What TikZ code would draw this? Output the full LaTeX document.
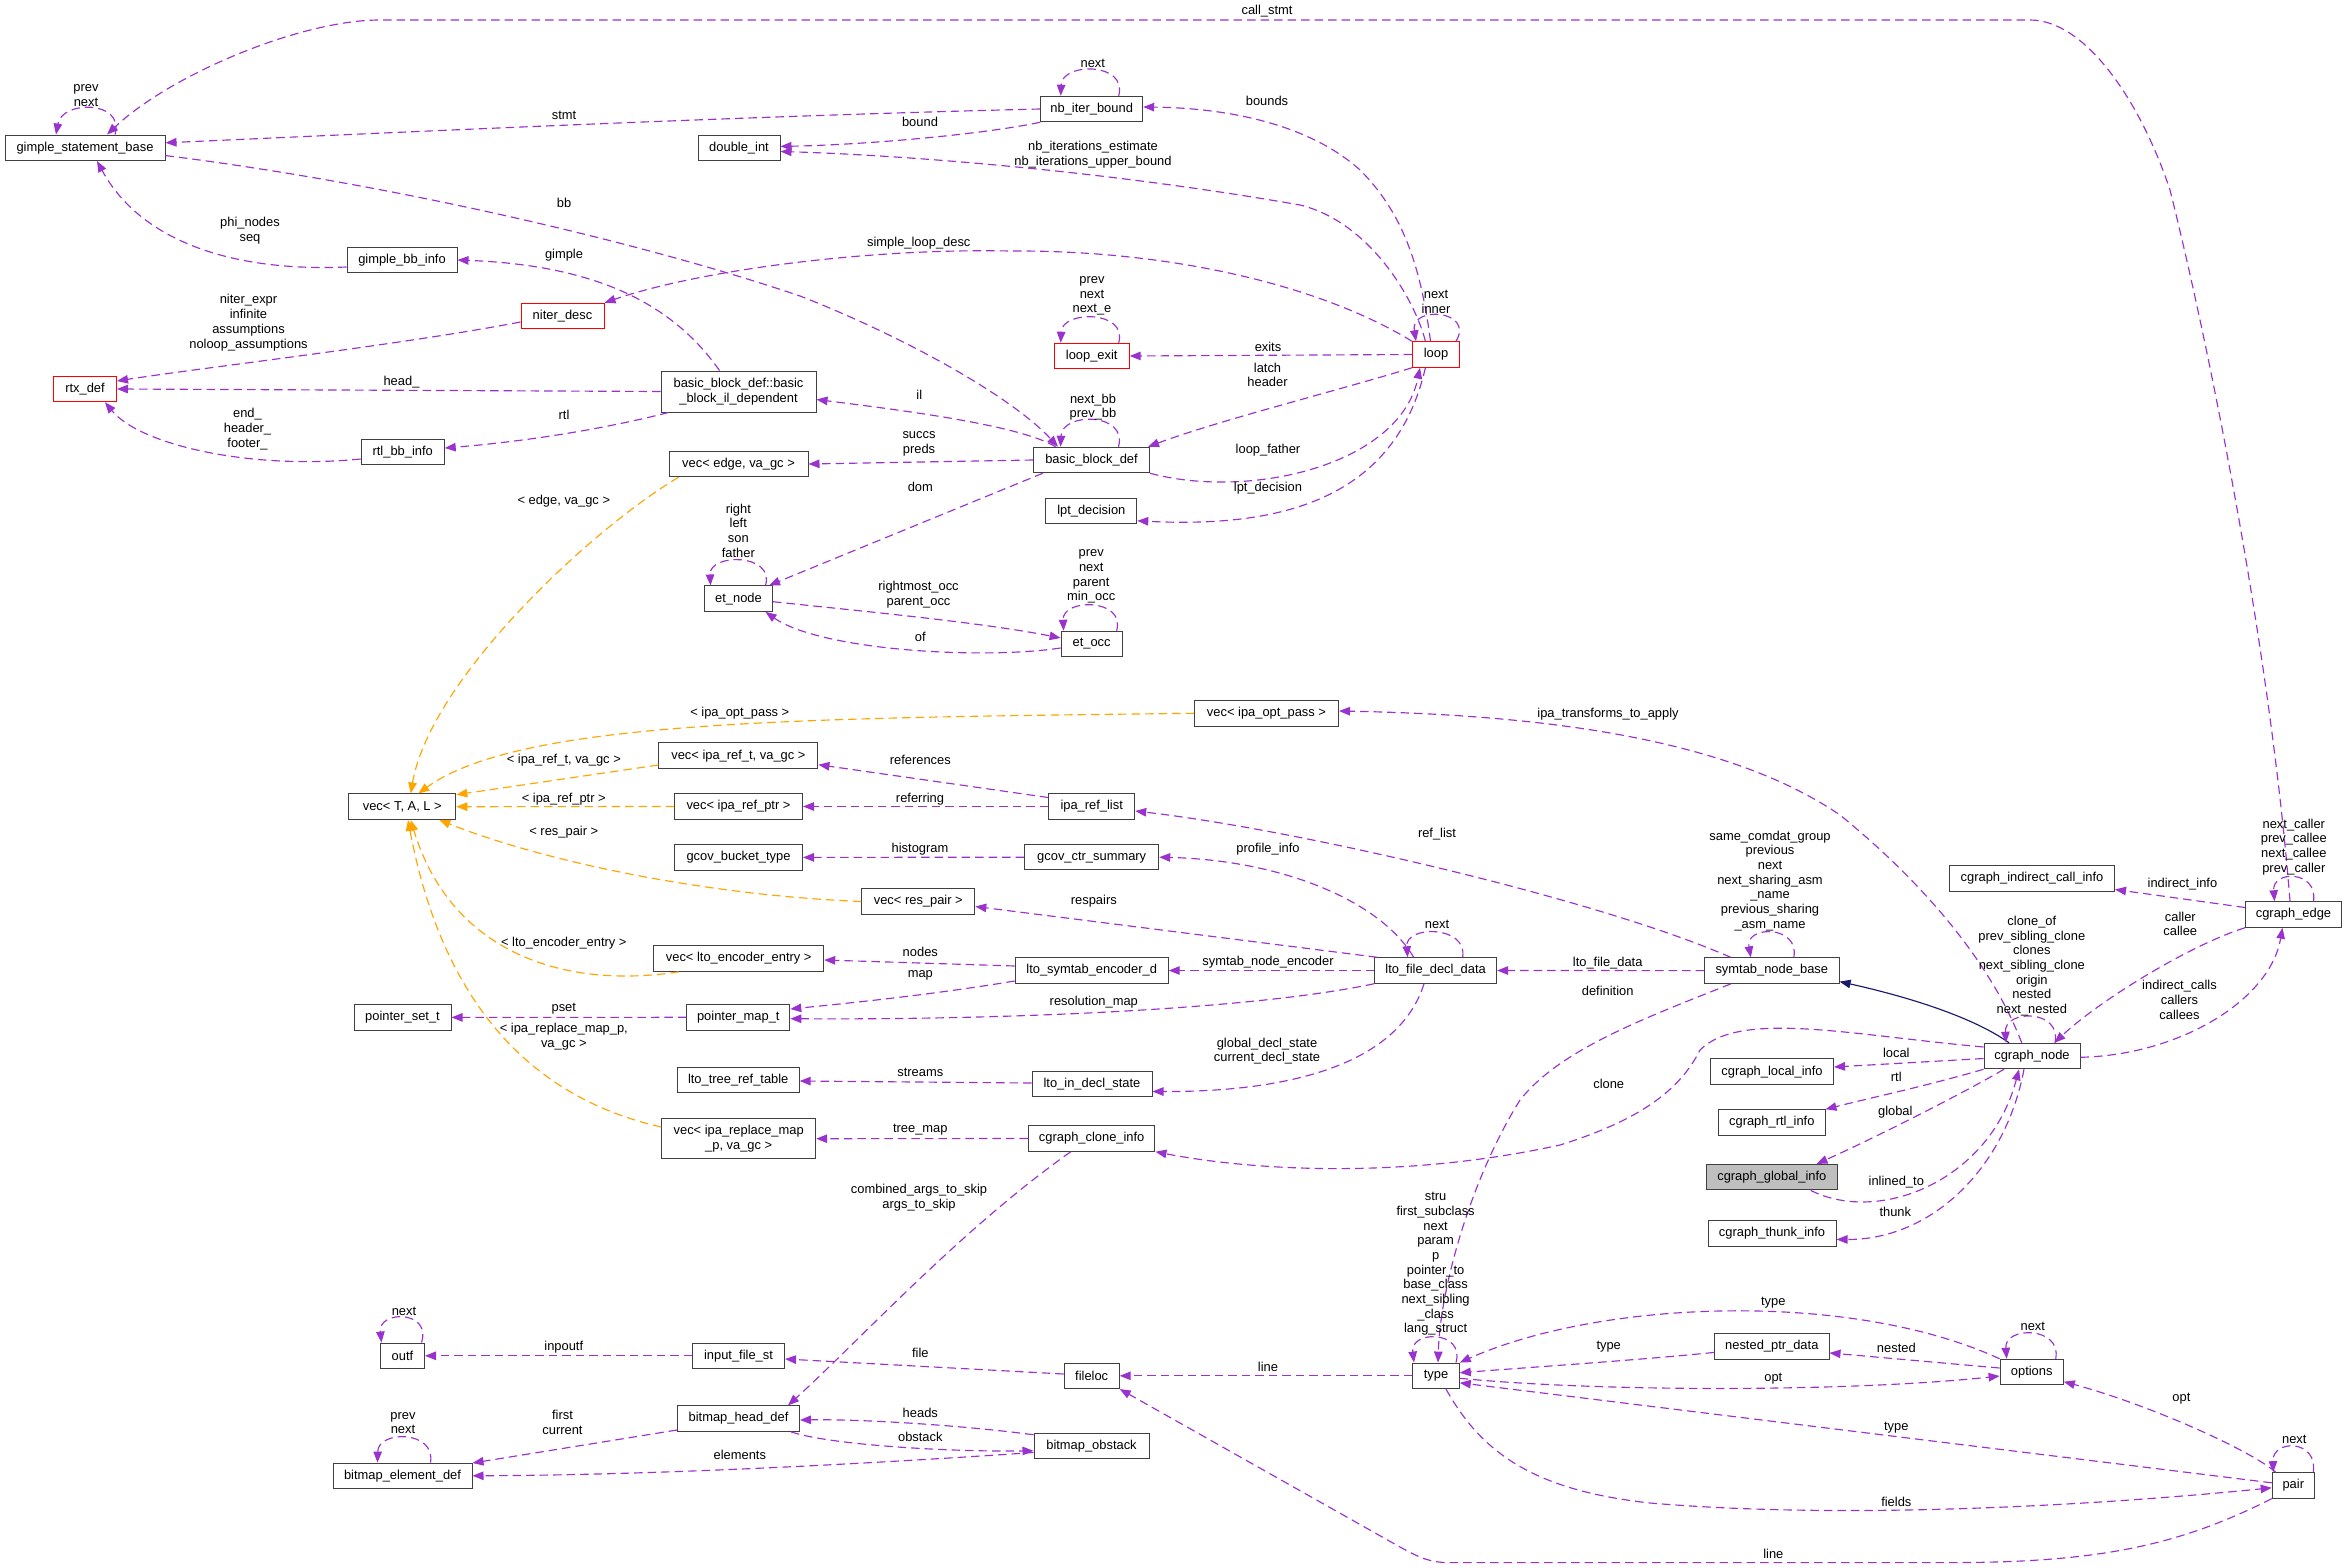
\documentclass[tikz,border=0pt]{standalone}
\usepackage{fontspec}
\setmainfont{Liberation Sans}
\usetikzlibrary{arrows.meta}
\definecolor{pu}{HTML}{9A32CD}
\definecolor{orng}{HTML}{FFA500}
\definecolor{nv}{HTML}{191970}
\definecolor{bx}{HTML}{404040}
\definecolor{gfill}{HTML}{BFBFBF}
\newcommand\dxf{\fontsize{12.9}{14.7}\selectfont}
\tikzset{
 box/.style={draw=bx, line width=1pt, fill=white, inner sep=0pt, minimum height=25.5pt, font=\dxf, align=center},
 rbox/.style={box, draw=red},
 ed/.style={draw=pu, line width=1.15pt, dash pattern=on 8.5pt off 5pt, -{Triangle[length=11pt,width=8.5pt,fill=pu]}},
 oe/.style={ed, draw=orng, -{Triangle[length=11pt,width=8.5pt,fill=orng]}},
 ih/.style={draw=nv, line width=1.15pt, -{Triangle[length=11pt,width=8.5pt,fill=nv]}},
 lbl/.style={font=\dxf, align=center, inner sep=0pt},
}
\begin{document}
\begin{tikzpicture}[x=1pt,y=-1pt]
\fill[white] (0,0) rectangle (2347,1568);
\useasboundingbox (0,0) rectangle (2347,1568);
% nodes
\node[box, minimum width=160pt] (gsb) at (85,147.8) {gimple\_statement\_base};
\node[box, minimum width=82pt] (dint) at (739,148) {double\_int};
\node[box, minimum width=110pt] (gbbi) at (402,260) {gimple\_bb\_info};
\node[rbox, minimum width=83pt] (nd) at (562.5,316) {niter\_desc};
\node[rbox, minimum width=63pt] (rtx) at (85,389) {rtx\_def};
\node[box, minimum width=155pt, minimum height=41pt] (bbil) at (738.5,391.5) {basic\_block\_def::basic\\\_block\_il\_dependent};
\node[box, minimum width=83pt] (rtlbb) at (402.7,452) {rtl\_bb\_info};
\node[box, minimum width=139pt] (vedge) at (738.5,464) {vec< edge, va\_gc >};
\node[box, minimum width=102pt] (nib) at (1091.7,109) {nb\_iter\_bound};
\node[rbox, minimum width=75pt] (lex) at (1091.7,356) {loop\_exit};
\node[rbox, minimum width=47pt] (lp) at (1436,354.5) {loop};
\node[box, minimum width=116pt] (bbd) at (1091.5,460) {basic\_block\_def};
\node[box, minimum width=91pt] (lpt) at (1091.3,510.8) {lpt\_decision};
\node[box, minimum width=68pt] (etn) at (738.5,598.7) {et\_node};
\node[box, minimum width=61pt] (eto) at (1091.6,644) {et\_occ};
\node[box, minimum width=107pt] (vtal) at (402.3,806.7) {vec< T, A, L >};
\node[box, minimum width=159pt] (vref) at (738.4,755.7) {vec< ipa\_ref\_t, va\_gc >};
\node[box, minimum width=128pt] (vrefp) at (738.5,806.5) {vec< ipa\_ref\_ptr >};
\node[box, minimum width=128pt] (gbt) at (738.5,857.4) {gcov\_bucket\_type};
\node[box, minimum width=170pt] (vlto) at (738.7,958.6) {vec< lto\_encoder\_entry >};
\node[box, minimum width=97pt] (pst) at (402.5,1017.4) {pointer\_set\_t};
\node[box, minimum width=103pt] (pmap) at (738.3,1017.3) {pointer\_map\_t};
\node[box, minimum width=144pt] (vopt) at (1266.5,713.3) {vec< ipa\_opt\_pass >};
\node[box, minimum width=86pt] (iprl) at (1091.7,806.5) {ipa\_ref\_list};
\node[box, minimum width=134pt] (gcs) at (1091.7,857.2) {gcov\_ctr\_summary};
\node[box, minimum width=113pt] (vres) at (918.3,901.5) {vec< res\_pair >};
\node[box, minimum width=153pt] (lsed) at (1091.7,970.5) {lto\_symtab\_encoder\_d};
\node[box, minimum width=122pt] (lfdd) at (1435.6,970.5) {lto\_file\_decl\_data};
\node[box, minimum width=165pt] (cici) at (2032,878.5) {cgraph\_indirect\_call\_info};
\node[box, minimum width=96pt] (ce) at (2293.5,914.5) {cgraph\_edge};
\node[box, minimum width=134.5pt] (snb) at (1771.8,970.6) {symtab\_node\_base};
\node[box, minimum width=96pt] (cgn) at (2032,1056) {cgraph\_node};
\node[box, minimum width=122pt] (ltrt) at (738.2,1079.8) {lto\_tree\_ref\_table};
\node[box, minimum width=154pt, minimum height=40pt] (vrep) at (738.7,1138.7) {vec< ipa\_replace\_map\\\_p, va\_gc >};
\node[box, minimum width=44pt] (outf) at (402.5,1355.8) {outf};
\node[box, minimum width=92pt] (ifs) at (738.5,1355.8) {input\_file\_st};
\node[box, minimum width=122pt] (bhd) at (738.5,1418.6) {bitmap\_head\_def};
\node[box, minimum width=139pt] (bed) at (402.5,1475.8) {bitmap\_element\_def};
\node[box, minimum width=120pt] (lids) at (1092,1083.8) {lto\_in\_decl\_state};
\node[box, minimum width=126.5pt] (cci) at (1091.7,1138.5) {cgraph\_clone\_info};
\node[box, minimum width=55pt] (floc) at (1091.7,1375.8) {fileloc};
\node[box, minimum width=115pt] (bob) at (1091.5,1446) {bitmap\_obstack};
\node[box, minimum width=46.5pt] (ty) at (1436,1375.8) {type};
\node[box, minimum width=123pt] (cli) at (1772,1071.7) {cgraph\_local\_info};
\node[box, minimum width=106.4pt] (cri) at (1771.8,1122.5) {cgraph\_rtl\_info};
\node[box, minimum width=130.5pt, fill=gfill] (cgi) at (1771.8,1177.2) {cgraph\_global\_info};
\node[box, minimum width=128pt] (cti) at (1772,1233.4) {cgraph\_thunk\_info};
\node[box, minimum width=114.4pt] (npd) at (1771.8,1346.4) {nested\_ptr\_data};
\node[box, minimum width=63.2pt] (opts) at (2031.7,1372) {options};
\node[box, minimum width=42.2pt] (pr) at (2293.3,1485.4) {pair};
% edges
\draw[ed] ([xshift=-3.5pt]ce.north) .. controls (2270,650) and (2210,350) .. (2170,190) .. controls (2140,100) and (2085,20) .. (2030,20) -- (380,20) .. controls (300,20) and (170,75) .. ([xshift=22pt]gsb.north);
\draw[ed] ([xshift=30pt]gsb.north) .. controls (125,100) and (62,100) .. ([xshift=-29pt]gsb.north);
\draw[ed] (nib.west) .. controls (750,116) and (450,130) .. ([yshift=5pt]gsb.east);
\draw[ed] (nib.south west) .. controls (980,135) and (860,145) .. ([yshift=1.6pt]dint.east);
\draw[ed] ([xshift=27pt]nib.north) .. controls (1128,62) and (1062,62) .. ([xshift=-31pt]nib.north);
\draw[ed] ([xshift=-10.6pt]lp.north) .. controls (1415,300) and (1370,222) .. (1300,205) .. controls (1100,170) and (900,155) .. ([yshift=-3.5pt]dint.east);
\draw[ed] ([xshift=-5.5pt]lp.north) .. controls (1420,260) and (1400,210) .. (1360,170) .. controls (1310,125) and (1230,108) .. ([yshift=2pt]nib.east);
\draw[ed] ([yshift=5.5pt]gsb.south east) .. controls (400,185) and (650,245) .. (800,296) .. controls (900,335) and (1010,395) .. ([xshift=-33.5pt]bbd.north);
\draw[ed] ([yshift=-6pt]nd.west) .. controls (400,345) and (200,368) .. ([yshift=8pt]rtx.east);
\draw[ed] ([yshift=-7pt]gbbi.west) .. controls (230,272) and (140,240) .. ([xshift=12pt]gsb.south);
\draw[ed] ([xshift=-19pt]bbil.north) .. controls (670,300) and (590,265) .. (gbbi.east);
\draw[ed] (bbil.west) -- (rtx.east);
\draw[ed] ([xshift=-70pt]bbil.south) .. controls (600,430) and (520,442) .. ([yshift=4pt]rtlbb.east);
\draw[ed] ([yshift=-7pt]rtlbb.west) .. controls (250,470) and (140,445) .. ([xshift=20pt]rtx.south);
\draw[ed] (lp.north west) .. controls (1320,285) and (1170,250) .. (1010,251) .. controls (870,248) and (700,270) .. (nd.north east);
\draw[ed] ([xshift=20pt]lp.north) .. controls (1475,310) and (1410,305) .. ([xshift=-20pt]lp.north);
\draw[ed] (lp.west) -- (lex.east);
\draw[ed] ([xshift=27pt]lex.north) .. controls (1128,310) and (1062,310) .. ([xshift=-31pt]lex.north);
\draw[ed] (lp.south west) .. controls (1340,390) and (1220,420) .. ([xshift=-2pt]bbd.north east);
\draw[ed] (bbd.south east) .. controls (1250,500) and (1400,465) .. ([xshift=-16pt]lp.south);
\draw[ed] ([xshift=-10.6pt]lp.south) .. controls (1395,500) and (1280,528) .. ([yshift=-10pt]lpt.east);
\draw[ed] ([xshift=27pt]bbd.north) .. controls (1128,412) and (1062,412) .. ([xshift=-31pt]bbd.north);
\draw[ed] ([xshift=-36pt]bbd.north) .. controls (1020,425) and (900,410) .. ([yshift=-8pt]bbil.east);
\draw[ed] (bbd.west) -- (vedge.east);
\draw[ed] ([xshift=-48.7pt]bbd.south) -- ([xshift=-4pt]etn.north east);
\draw[oe] ([xshift=-60pt]vedge.south) .. controls (590,530) and (430,680) .. ([xshift=8.4pt]vtal.north);
\draw[ed] ([xshift=27pt]etn.north) .. controls (775,553) and (709,553) .. ([xshift=-28pt]etn.north);
\draw[ed] ([yshift=-3pt]etn.east) .. controls (850,610) and (980,622) .. ([yshift=6pt]eto.west);
\draw[ed] ([yshift=-4pt]eto.west) .. controls (980,660) and (820,650) .. ([xshift=-7.5pt]etn.south east);
\draw[ed] ([xshift=25pt]eto.north) .. controls (1126,598) and (1062,598) .. ([xshift=-28pt]eto.north);
\draw[oe] (vopt.west) .. controls (800,718) and (520,720) .. ([xshift=16pt]vtal.north);
\draw[ed] ([xshift=-10.3pt]cgn.north) .. controls (1990,960) and (1920,880) .. (1840,815) .. controls (1730,740) and (1550,715) .. ([yshift=2.3pt]vopt.east);
\draw[oe] ([yshift=-9.3pt]vref.west) -- ([yshift=12pt]vtal.east);
\draw[oe] (vrefp.west) -- (vtal.east);
\draw[oe] (vres.west) .. controls (700,895) and (540,860) .. ([xshift=-17pt]vtal.south east);
\draw[oe] ([xshift=-60pt]vlto.south) .. controls (560,990) and (450,950) .. ([xshift=8.4pt]vtal.south);
\draw[oe] ([yshift=11.7pt]vrep.west) .. controls (520,1095) and (440,990) .. ([xshift=5.7pt]vtal.south);
\draw[ed] ([yshift=9pt]iprl.west) -- ([yshift=-9pt]vref.east);
\draw[ed] (iprl.west) -- (vrefp.east);
\draw[ed] (gcs.west) -- (gbt.east);
\draw[ed] ([xshift=-22pt]lfdd.north) .. controls (1380,900) and (1280,860) .. (gcs.east);
\draw[ed] ([xshift=3pt]lfdd.north west) -- ([yshift=-5pt]vres.east);
\draw[ed] ([xshift=27pt]lfdd.north) .. controls (1468,925) and (1405,925) .. ([xshift=-28pt]lfdd.north);
\draw[ed] (lfdd.west) -- (lsed.east);
\draw[ed] ([yshift=4.5pt]lsed.west) -- ([yshift=-1.4pt]vlto.east);
\draw[ed] ([yshift=-10.5pt]lsed.west) .. controls (930,995) and (850,1003) .. ([yshift=8.3pt]pmap.east);
\draw[ed] (lfdd.south west) .. controls (1250,1010) and (1000,1020) .. ([yshift=-1.4pt]pmap.east);
\draw[ed] (pmap.west) -- (pst.east);
\draw[ed] ([xshift=-11.6pt]lfdd.south) .. controls (1400,1060) and (1300,1092) .. ([yshift=-7.7pt]lids.east);
\draw[ed] ([yshift=0.8pt]lids.west) -- ([yshift=-1.2pt]ltrt.east);
\draw[ed] (cci.west) -- (vrep.east);
\draw[ed] ([xshift=-21pt]cci.south) .. controls (960,1230) and (860,1340) .. ([xshift=-12pt]bhd.north east);
\draw[ed] ([yshift=9pt]cgn.west) .. controls (1850,1035) and (1740,1010) .. (1700,1050) .. controls (1680,1090) and (1640,1120) .. (1560,1145) .. controls (1400,1180) and (1250,1170) .. (cci.south east);
\draw[ih] ([xshift=-23pt]cgn.north) .. controls (1970,1015) and (1900,995) .. ([yshift=-11pt]snb.east);
\draw[ed] (snb.west) -- (lfdd.east);
\draw[ed] ([xshift=-41pt]snb.north) .. controls (1600,900) and (1300,830) .. ([yshift=-4.5pt]iprl.east);
\draw[ed] ([xshift=22pt]snb.north) .. controls (1800,925) and (1745,925) .. ([xshift=-21pt]snb.north);
\draw[ed] ([xshift=-41pt]snb.south) .. controls (1640,1020) and (1560,1050) .. (1520,1100) .. controls (1470,1180) and (1440,1290) .. ([xshift=2pt]ty.north);
\draw[ed] ([xshift=20pt]ty.north) .. controls (1465,1330) and (1410,1330) .. ([xshift=-22pt]ty.north);
\draw[ed] (ty.west) -- (floc.east);
\draw[ed] ([yshift=1.8pt]floc.west) -- ([yshift=-3.2pt]ifs.east);
\draw[ed] (ifs.west) -- (outf.east);
\draw[ed] ([xshift=19pt]outf.north) .. controls (432,1310) and (378,1310) .. ([xshift=-21pt]outf.north);
\draw[ed] ([yshift=-11.4pt]bhd.west) -- ([yshift=12.8pt]bed.east);
\draw[ed] ([yshift=-6.5pt]bob.west) .. controls (850,1465) and (650,1475) .. (bed.east);
\draw[ed] ([yshift=-2pt]bob.north west) .. controls (960,1425) and (860,1419) .. ([yshift=-1.4pt]bhd.east);
\draw[ed] ([xshift=-9pt]bhd.south east) .. controls (830,1445) and (950,1452) .. ([yshift=-4.8pt]bob.west);
\draw[ed] ([xshift=28pt]bed.north) .. controls (436,1430) and (378,1430) .. ([xshift=-25pt]bed.north);
\draw[ed] ([yshift=-2.5pt]cgn.west) -- ([yshift=4.7pt]cli.east);
\draw[ed] (cgn.south west) .. controls (1930,1085) and (1870,1098) .. (cri.north east);
\draw[ed] ([xshift=-28pt]cgn.south) .. controls (1960,1095) and (1870,1140) .. ([xshift=-21pt]cgi.north east);
\draw[ed] ([xshift=39pt]cgi.south) .. controls (1880,1225) and (1990,1180) .. ([xshift=-13pt]cgn.south);
\draw[ed] ([xshift=-8pt]cgn.south) .. controls (2005,1170) and (1930,1240) .. ([yshift=-6pt]cti.east);
\draw[ed] ([xshift=23pt]cgn.north) .. controls (2062,1009) and (2004,1009) .. ([xshift=-26pt]cgn.north);
\draw[ed] (ce.south west) .. controls (2190,945) and (2100,1000) .. ([xshift=22.4pt]cgn.north);
\draw[ed] ([yshift=-1.3pt]cgn.east) .. controls (2180,1055) and (2270,1000) .. ([xshift=-11pt]ce.south);
\draw[ed] ([yshift=7pt]ce.west) -- ([yshift=-11pt]cici.east);
\draw[ed] ([xshift=20pt]ce.north) .. controls (2318,870) and (2272,870) .. ([xshift=-19pt]ce.north);
\draw[ed] (opts.north west) .. controls (1850,1290) and (1600,1300) .. (ty.north east);
\draw[ed] ([yshift=-6pt]npd.west) .. controls (1640,1360) and (1520,1368) .. ([yshift=3pt]ty.east);
\draw[ed] ([yshift=4pt]opts.west) -- ([yshift=-6.5pt]npd.east);
\draw[ed] ([yshift=-2.5pt]ty.east) .. controls (1600,1392) and (1850,1392) .. ([yshift=-4pt]opts.west);
\draw[ed] ([xshift=24pt]opts.north) .. controls (2062,1326) and (2004,1326) .. ([xshift=-25pt]opts.north);
\draw[ed] ([yshift=2.6pt]pr.west) -- ([yshift=-7pt]ty.east);
\draw[ed] ([xshift=10pt]ty.south) .. controls (1480,1450) and (1530,1490) .. (1650,1503) .. controls (1850,1520) and (2100,1505) .. ([yshift=-2.4pt]pr.west);
\draw[ed] (pr.south west) .. controls (2180,1545) and (2100,1562.6) .. (1950,1562.6) -- (1450,1562.6) .. controls (1430,1562.6) and (1420,1558) .. (1400,1547) -- (floc.south east);
\draw[ed] ([xshift=4pt]pr.north west) .. controls (2250,1450) and (2150,1405) .. ([yshift=-9.7pt]opts.east);
\draw[ed] ([xshift=20pt]pr.north) .. controls (2318,1439) and (2272,1439) .. ([xshift=-20pt]pr.north);
% labels
\node[lbl] (l1) at (1267,11.4) {call\_stmt};
\node[lbl] (l2) at (86,95.3) {prev\\next};
\node[lbl] (l3) at (564,115) {stmt};
\node[lbl] (l4) at (920,122) {bound};
\node[lbl] (l5) at (1092.8,63.7) {next};
\node[lbl] (l6) at (1093,155) {nb\_iterations\_estimate\\nb\_iterations\_upper\_bound};
\node[lbl] (l7) at (1267,100.6) {bounds};
\node[lbl] (l8) at (564,203) {bb};
\node[lbl] (l9) at (248.5,322.7) {niter\_expr\\infinite\\assumptions\\noloop\_assumptions};
\node[lbl] (l10) at (250,231) {phi\_nodes\\seq};
\node[lbl] (l11) at (564,255) {gimple};
\node[lbl] (l12) at (401.5,382) {head\_};
\node[lbl] (l13) at (564,415) {rtl};
\node[lbl] (l14) at (247.5,429.1) {end\_\\header\_\\footer\_};
\node[lbl] (l15) at (918.8,243) {simple\_loop\_desc};
\node[lbl] (l16) at (1436,302) {next\\inner};
\node[lbl] (l17) at (1268,347) {exits};
\node[lbl] (l18) at (1092,296) {prev\\next\\next\_e};
\node[lbl] (l19) at (1267.5,375) {latch\\header};
\node[lbl] (l20) at (1268,450.5) {loop\_father};
\node[lbl] (l21) at (1268,488.4) {lpt\_decision};
\node[lbl] (l22) at (1093,407.3) {next\_bb\\prev\_bb};
\node[lbl] (l23) at (919.3,395) {il};
\node[lbl] (l24) at (919,444) {succs\\preds};
\node[lbl] (l25) at (920.3,487) {dom};
\node[lbl] (l26) at (563.8,501) {< edge, va\_gc >};
\node[lbl] (l27) at (738.3,530.5) {right\\left\\son\\father};
\node[lbl] (l28) at (918.5,595) {rightmost\_occ\\parent\_occ};
\node[lbl] (l29) at (920.3,636.4) {of};
\node[lbl] (l30) at (1091.2,576.5) {prev\\next\\parent\\min\_occ};
\node[lbl] (l31) at (739.8,713) {< ipa\_opt\_pass >};
\node[lbl] (l32) at (1608,714.6) {ipa\_transforms\_to\_apply};
\node[lbl] (l33) at (563.8,760) {< ipa\_ref\_t, va\_gc >};
\node[lbl] (l34) at (563.8,799) {< ipa\_ref\_ptr >};
\node[lbl] (l35) at (563.8,831.7) {< res\_pair >};
\node[lbl] (l36) at (563.8,943.6) {< lto\_encoder\_entry >};
\node[lbl] (l37) at (563.8,1036.5) {< ipa\_replace\_map\_p,\\va\_gc >};
\node[lbl] (l38) at (920.3,760) {references};
\node[lbl] (l39) at (920,799) {referring};
\node[lbl] (l40) at (920,849) {histogram};
\node[lbl] (l41) at (1268,849) {profile\_info};
\node[lbl] (l42) at (1093.8,901) {respairs};
\node[lbl] (l43) at (1437,924.7) {next};
\node[lbl] (l44) at (1268,962.6) {symtab\_node\_encoder};
\node[lbl] (l45) at (920.3,951.6) {nodes};
\node[lbl] (l46) at (920.3,975.6) {map};
\node[lbl] (l47) at (1093.8,1002) {resolution\_map};
\node[lbl] (l48) at (563.8,1009) {pset};
\node[lbl] (l49) at (1267,1051) {global\_decl\_state\\current\_decl\_state};
\node[lbl] (l50) at (920.3,1072) {streams};
\node[lbl] (l51) at (920.3,1130) {tree\_map};
\node[lbl] (l52) at (919,1198) {combined\_args\_to\_skip\\args\_to\_skip};
\node[lbl] (l53) at (1608.7,1083.8) {clone};
\node[lbl] (l55) at (1607.7,962.6) {lto\_file\_data};
\node[lbl] (l56) at (1437,834.5) {ref\_list};
\node[lbl] (l57) at (1770,880.8) {same\_comdat\_group\\previous\\next\\next\_sharing\_asm\\\_name\\previous\_sharing\\\_asm\_name};
\node[lbl] (l58) at (1607.7,991) {definition};
\node[lbl] (l59) at (1435.6,1264) {stru\\first\_subclass\\next\\param\\p\\pointer\_to\\base\_class\\next\_sibling\\\_class\\lang\_struct};
\node[lbl] (l60) at (1268,1367) {line};
\node[lbl] (l61) at (920.3,1352.5) {file};
\node[lbl] (l62) at (563.8,1347.4) {inpoutf};
\node[lbl] (l63) at (404,1311) {next};
\node[lbl] (l64) at (562.5,1422.5) {first\\current};
\node[lbl] (l65) at (739.8,1455) {elements};
\node[lbl] (l66) at (920.3,1412.7) {heads};
\node[lbl] (l67) at (920.3,1436.6) {obstack};
\node[lbl] (l68) at (403,1423) {prev\\next};
\node[lbl] (l69) at (1896.3,1052.5) {local};
\node[lbl] (l70) at (1896.3,1076.4) {rtl};
\node[lbl] (l71) at (1895.3,1111.7) {global};
\node[lbl] (l72) at (1896.3,1182.4) {inlined\_to};
\node[lbl] (l73) at (1895.3,1211.7) {thunk};
\node[lbl] (l74) at (2031.8,966) {clone\_of\\prev\_sibling\_clone\\clones\\next\_sibling\_clone\\origin\\nested\\next\_nested};
\node[lbl] (l75) at (2180.3,924) {caller\\callee};
\node[lbl] (l76) at (2179.5,1000) {indirect\_calls\\callers\\callees};
\node[lbl] (l77) at (2182.4,884.4) {indirect\_info};
\node[lbl] (l78) at (2293.8,847) {next\_caller\\prev\_callee\\next\_callee\\prev\_caller};
\node[lbl] (l79) at (1773.3,1302.6) {type};
\node[lbl] (l80) at (1608.7,1346.4) {type};
\node[lbl] (l81) at (1896.3,1347.4) {nested};
\node[lbl] (l82) at (1773.3,1378.4) {opt};
\node[lbl] (l83) at (2032.8,1326) {next};
\node[lbl] (l84) at (1896.3,1427.2) {type};
\node[lbl] (l85) at (1896.3,1502) {fields};
\node[lbl] (l86) at (1773.3,1554) {line};
\node[lbl] (l87) at (2181.4,1398.6) {opt};
\node[lbl] (l88) at (2294.3,1439.7) {next};
\end{tikzpicture}
\end{document}
